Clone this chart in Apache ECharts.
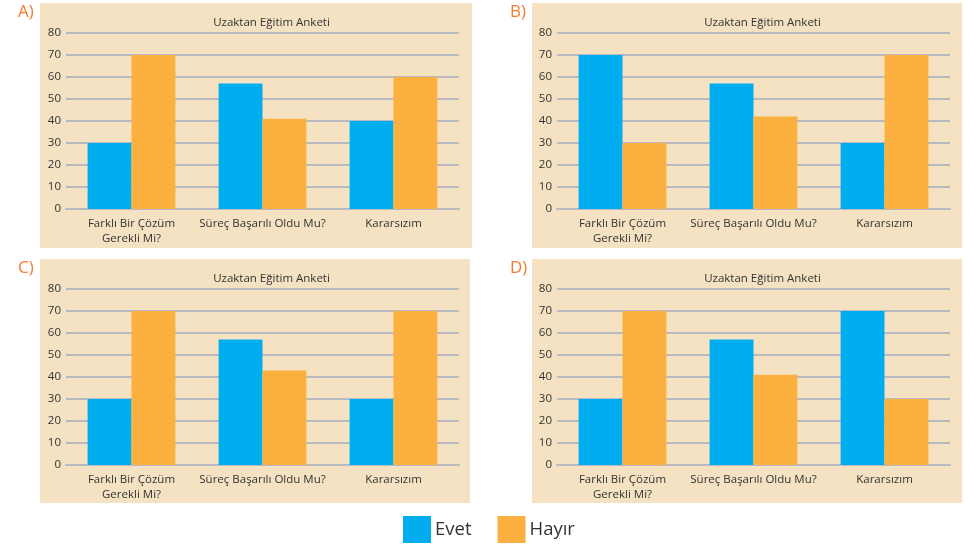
<!DOCTYPE html>
<html><head><meta charset="utf-8">
<script src="https://cdn.jsdelivr.net/npm/echarts@6/dist/echarts.min.js"></script>
<style>html,body{margin:0;padding:0;background:#fff}#c{width:968px;height:545px}</style>
</head><body><div id="c"></div>
<script>
const categories = ['Farklı Bir Çözüm\nGerekli Mi?', 'Süreç Başarılı Oldu Mu?', 'Kararsızım'];
const yTicks = [0, 10, 20, 30, 40, 50, 60, 70, 80];
const chartTitle = 'Uzaktan Eğitim Anketi';
const panelLabels = ['A)', 'B)', 'C)', 'D)'];
const seriesNames = ['Evet', 'Hayır'];
const evetA = [30, 57, 40];
const hayirA = [70, 41, 60];
const evetB = [70, 57, 30];
const hayirB = [30, 42, 70];
const evetC = [30, 57, 30];
const hayirC = [70, 43, 70];
const evetD = [30, 57, 70];
const hayirD = [70, 41, 30];
const panelData = [[evetA, hayirA], [evetB, hayirB], [evetC, hayirC], [evetD, hayirD]];

const FONT = 'Open Sans';
const BLUE = '#00AEEF', ORANGE = '#FBB040', BEIGE = '#F5E2C2', GRID = '#B9B9C1', TXT = '#333333', LBL = '#F47B30';

// panel layout: box and grid
const panels = [
  {box:[40,3,432,245], grid:[66,33,393,176]},
  {box:[532,3,430,245], grid:[557,33,393,176]},
  {box:[40,259,430,244], grid:[66,289,393,176]},
  {box:[532,259,430,244], grid:[557,289,393,176]}
];

const grids = [], xAxes = [], yAxes = [], series = [], titles = [], graphics = [];
panels.forEach((p, i) => {
  const [gl, gt, gw, gh] = p.grid;
  grids.push({left: gl, top: gt, width: gw, height: gh, containLabel: false});
  xAxes.push({type: 'category', gridIndex: i, data: categories,
    axisLine: {show: true, lineStyle: {color: GRID, width: 2}},
    axisTick: {show: false},
    axisLabel: {color: TXT, fontFamily: FONT, fontSize: 11.5, margin: 7, lineHeight: 15, interval: 0}});
  yAxes.push({type: 'value', gridIndex: i, min: yTicks[0], max: yTicks[yTicks.length-1], interval: yTicks[1]-yTicks[0],
    axisLine: {show: false}, axisTick: {show: false},
    splitLine: {show: true, lineStyle: {color: GRID, width: 2}},
    axisLabel: {color: TXT, fontFamily: FONT, fontSize: 11.5, margin: 5}});
  panelData[i].forEach((vals, s) => {
    series.push({type: 'bar', name: seriesNames[s], xAxisIndex: i, yAxisIndex: i, data: vals,
      barGap: '0%', barCategoryGap: '33%', itemStyle: {color: s === 0 ? BLUE : ORANGE}});
  });
  titles.push({text: chartTitle, left: gl + gw/2 + 4, top: gt - 21, textAlign: 'center',
    textStyle: {color: TXT, fontFamily: FONT, fontSize: 11.5, fontWeight: 'normal'}});
  const [bx, by, bw, bh] = p.box;
  graphics.push({type: 'rect', z: -10, shape: {x: bx, y: by, width: bw, height: bh}, style: {fill: BEIGE}});
  graphics.push({type: 'text', z: 10, left: bx - 22, top: by + 1,
    style: {text: panelLabels[i], fill: LBL, font: '17px "' + FONT + '"'}});
});

const chart = echarts.init(document.getElementById('c'));
chart.setOption({
  backgroundColor: '#fff',
  animation: false,
  title: titles,
  grid: grids,
  xAxis: xAxes,
  yAxis: yAxes,
  series: series,
  graphic: graphics,
  legend: {data: seriesNames, left: 398, top: 511, icon: 'rect', itemWidth: 28, itemHeight: 27, itemGap: 26,
    textStyle: {color: TXT, fontFamily: FONT, fontSize: 18.5, padding: [0, 0, 0, -1]}}
});
</script></body></html>
